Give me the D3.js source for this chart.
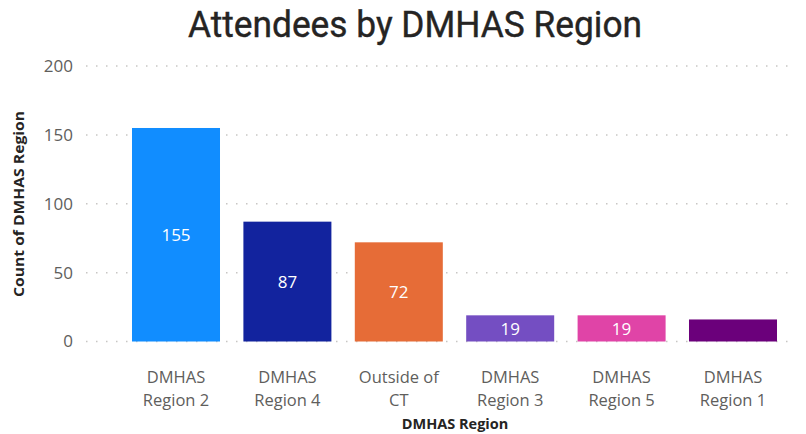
<!DOCTYPE html>
<html>
<head>
<meta charset="utf-8">
<script src="https://cdn.jsdelivr.net/npm/d3@7"></script>
<style>
  body { margin: 0; background: #fff; }
  svg { display: block; }
</style>
</head>
<body>
<svg id="chart" width="806" height="434"></svg>
<script>
(function(){
    'use strict';

    var regions = [['DMHAS', 'Region 2'], ['DMHAS', 'Region 4'], ['Outside of', 'CT'],
                   ['DMHAS', 'Region 3'], ['DMHAS', 'Region 5'], ['DMHAS', 'Region 1']];
    var counts = [155, 87, 72, 19, 19, 16];
    var colors = ['#118DFF', '#12239E', '#E66C37', '#744EC2', '#E044A7', '#6B007B'];
    var yTicks = [0, 50, 100, 150, 200];

    var svg = d3.select('#chart');
    var gridLeft = 86, gridRight = 795;
    var font = '"Segoe UI", "Open Sans", sans-serif';

    var x = d3.scaleBand()
        .domain(d3.range(regions.length))
        .range([120.3, 788.7])
        .paddingInner(0.21).paddingOuter(0.105);

    var y = d3.scaleLinear().domain([0, 200]).range([341.5, 66]);

    // title
    svg.append('text')
        .attr('x', 415).attr('y', 37)
        .attr('text-anchor', 'middle')
        .attr('textLength', 454)
        .attr('lengthAdjust', 'spacingAndGlyphs')
        .style('font-family', 'Roboto, "DejaVu Sans", sans-serif')
        .style('font-weight', 400)
        .style('font-size', '37px')
        .style('fill', '#252423')
        .style('stroke', '#252423')
        .style('stroke-width', 0.4)
        .text('Attendees by DMHAS Region');

    // gridlines
    svg.append('g').selectAll('line').data(yTicks).enter().append('line')
        .attr('x1', gridLeft).attr('x2', gridRight)
        .attr('y1', function(d) { return y(d); })
        .attr('y2', function(d) { return y(d); })
        .attr('stroke', '#C8C6C4')
        .attr('stroke-width', 1.5)
        .attr('stroke-dasharray', '1.5,8.5');

    // y axis
    var yAxis = svg.append('g')
        .attr('transform', 'translate(73,0)')
        .call(d3.axisLeft(y).tickValues(yTicks).tickSize(0).tickPadding(0));
    yAxis.select('.domain').remove();
    yAxis.selectAll('text')
        .style('font-family', font)
        .style('font-size', '17px')
        .style('fill', '#605E5C');

    svg.append('text')
        .attr('transform', 'translate(24,204) rotate(-90)')
        .attr('text-anchor', 'middle')
        .attr('textLength', 186)
        .attr('lengthAdjust', 'spacingAndGlyphs')
        .style('font-family', font)
        .style('font-weight', 'bold')
        .style('font-size', '14.5px')
        .style('fill', '#252423')
        .text('Count of DMHAS Region');

    // bars
    var bars = svg.append('g').selectAll('g').data(counts).enter().append('g');
    bars.append('rect')
        .attr('x', function(d, i) { return x(i); })
        .attr('width', x.bandwidth())
        .attr('y', function(d) { return y(d); })
        .attr('height', function(d) { return y(0) - y(d); })
        .attr('fill', function(d, i) { return colors[i]; });

    bars.append('text')
        .attr('x', function(d, i) { return x(i) + x.bandwidth() / 2; })
        .attr('y', function(d) { return (y(d) + y(0)) / 2; })
        .attr('dy', '0.36em')
        .attr('text-anchor', 'middle')
        .style('font-family', font)
        .style('font-size', '17px')
        .style('fill', '#fff')
        .text(function(d) { return y(0) - y(d) > 24 ? d : ''; });

    // x axis labels
    var xl = svg.append('g').selectAll('text').data(regions).enter().append('text')
        .attr('x', function(d, i) { return x(i) + x.bandwidth() / 2; })
        .attr('y', 383)
        .attr('text-anchor', 'middle')
        .style('font-family', font)
        .style('font-size', '16.5px')
        .style('fill', '#605E5C');
    xl.append('tspan').attr('x', function(d, i) { return x(i) + x.bandwidth() / 2; })
        .text(function(d) { return d[0]; });
    xl.append('tspan').attr('x', function(d, i) { return x(i) + x.bandwidth() / 2; })
        .attr('dy', 23)
        .text(function(d) { return d[1]; });

    svg.append('text')
        .attr('x', 455).attr('y', 429)
        .attr('text-anchor', 'middle')
        .style('font-family', font)
        .style('font-weight', 'bold')
        .style('font-size', '14.5px')
        .style('fill', '#252423')
        .text('DMHAS Region');
})();
</script>
</body>
</html>
